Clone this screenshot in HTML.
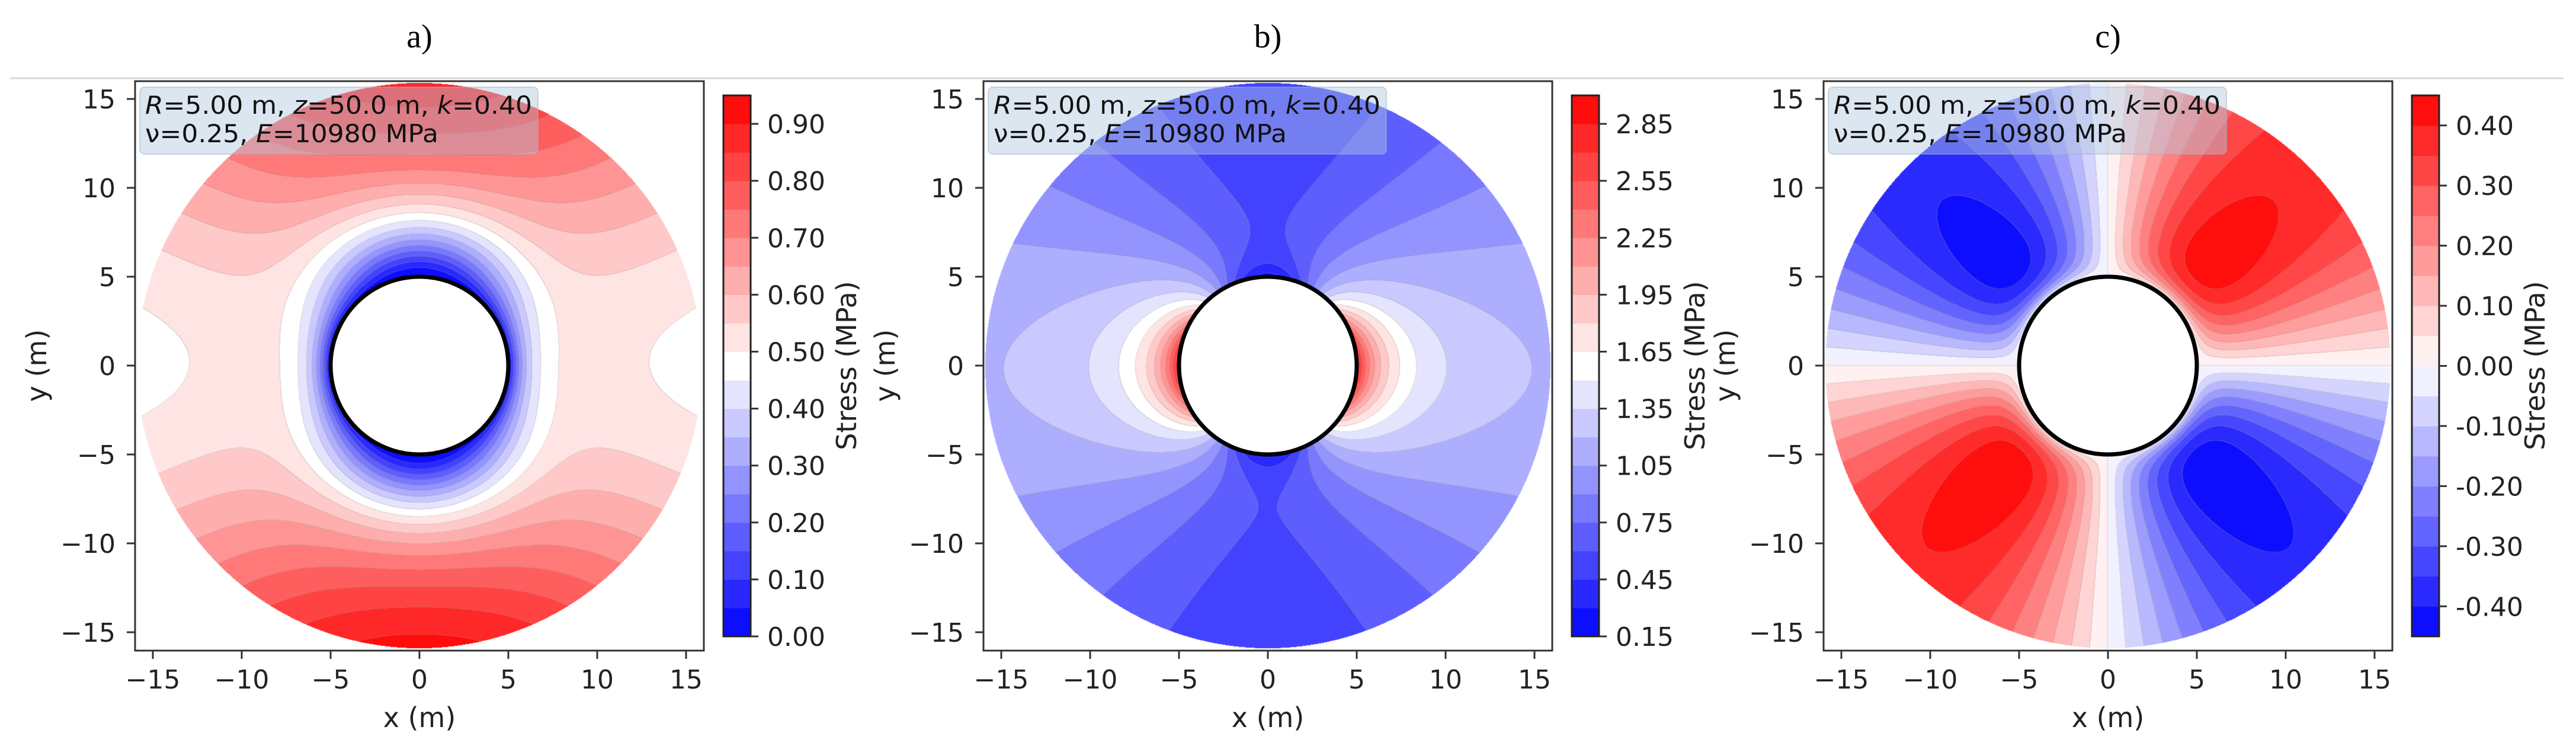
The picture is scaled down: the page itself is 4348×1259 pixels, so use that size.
<!DOCTYPE html>
<html><head><meta charset="utf-8">
<style>
html,body{margin:0;padding:0;background:#fff;}
#fig{position:relative;width:4348px;height:1259px;overflow:hidden;background:#fff;}
canvas{position:absolute;top:137px;}
svg{position:absolute;left:0;top:0;}
</style></head>
<body>
<div id="fig">
<canvas id="cA" width="960" height="960" style="left:228px"></canvas>
<canvas id="cB" width="960" height="960" style="left:1660px"></canvas>
<canvas id="cC" width="960" height="960" style="left:3078px"></canvas>
<svg id="ov" width="4348" height="1259" xmlns="http://www.w3.org/2000/svg"></svg>
</div>
<script>
// ---- data ----
const holeRadius = 5.0;          // R (m)
const domainRadius = 15.9;       // plotted disc radius (m)
const verticalStress = 1.10;     // Pv (MPa)
const kRatio = 0.40;             // Ph / Pv
const depthGradient = 0.02;      // slight variation of Pv with y
const levelsA = [0,0.05,0.10,0.15,0.20,0.25,0.30,0.35,0.40,0.45,0.50,0.55,0.60,0.65,0.70,0.75,0.80,0.85,0.90,0.95];
const levelsB = [0.15,0.30,0.45,0.60,0.75,0.90,1.05,1.20,1.35,1.50,1.65,1.80,1.95,2.10,2.25,2.40,2.55,2.70,2.85,3.00];
const levelsC = [-0.45,-0.40,-0.35,-0.30,-0.25,-0.20,-0.15,-0.10,-0.05,0,0.05,0.10,0.15,0.20,0.25,0.30,0.35,0.40,0.45];
const cbTicksA = [0,0.10,0.20,0.30,0.40,0.50,0.60,0.70,0.80,0.90];
const cbTicksB = [0.15,0.45,0.75,1.05,1.35,1.65,1.95,2.25,2.55,2.85];
const cbTicksC = [-0.40,-0.30,-0.20,-0.10,0,0.10,0.20,0.30,0.40];
const axisTicks = [-15,-10,-5,0,5,10,15];
const panelTitles = ['a)','b)','c)'];

// ---- layout ----
const boxLefts = [228,1660,3078], boxTop = 137, boxSize = 960, pxPerM = 30;
const cbTop = 161, cbBot = 1074, cbW = 46, cbGap = 33;
const NS = 'http://www.w3.org/2000/svg';
const ov = document.getElementById('ov');
function el(tag, attrs, parent){const e=document.createElementNS(NS,tag);for(const k in attrs)e.setAttribute(k,attrs[k]);(parent||ov).appendChild(e);return e;}

function bwr(t){t=Math.max(0,Math.min(1,t));if(t<0.5){const v=2*t;return [v*255,v*255,255];}const v=2*(1-t);return [255,v*255,v*255];}

function fields(x,y,which){
  const r2=x*x+y*y, th=Math.atan2(y,x), rho=holeRadius*holeRadius/r2;
  const Pv=verticalStress*(1-depthGradient*y/16), Ph=kRatio*Pv;
  const c2=Math.cos(2*th), s2=Math.sin(2*th);
  if(which===0) return (Ph+Pv)/2*(1-rho)+(Ph-Pv)/2*(1-4*rho+3*rho*rho)*c2;
  if(which===1) return (Ph+Pv)/2*(1+rho)-(Ph-Pv)/2*(1+3*rho*rho)*c2;
  return -(Ph-Pv)/2*(1+2*rho-3*rho*rho)*s2;
}

function bandOf(v,lv){if(v<=lv[0])return 0;for(let i=1;i<lv.length;i++){if(v<lv[i])return i-1;}return lv.length-2;}

function drawField(cid,which,lv){
  const cv=document.getElementById(cid),ctx=cv.getContext('2d');
  const N=960,img=ctx.createImageData(N,N),d=img.data;
  const band=new Int16Array(N*N).fill(-1);
  const nb=lv.length-1;
  for(let j=0;j<N;j++){const y=16-(j+0.5)/pxPerM;
    for(let i=0;i<N;i++){const x=(i+0.5)/pxPerM-16;const r=Math.hypot(x,y);
      if(r>domainRadius||r<holeRadius)continue;
      band[j*N+i]=bandOf(fields(x,y,which),lv);}}
  for(let j=0;j<N;j++)for(let i=0;i<N;i++){const k=j*N+i,p=k*4,b=band[k];
    if(b<0){d[p]=255;d[p+1]=255;d[p+2]=255;d[p+3]=0;continue;}
    let c=bwr((b+0.5)/nb);
    const rt=(i<N-1)?band[k+1]:b, dn=(j<N-1)?band[k+N]:b;
    if((rt>=0&&rt!==b)||(dn>=0&&dn!==b)){c=[c[0]*0.65+150*0.35,c[1]*0.65+150*0.35,c[2]*0.65+130*0.35];}
    d[p]=c[0];d[p+1]=c[1];d[p+2]=c[2];d[p+3]=255;}
  ctx.putImageData(img,0,0);
}
drawField('cA',0,levelsA);drawField('cB',1,levelsB);drawField('cC',2,levelsC);

// separator line
const sep=el('line',{x1:17,y1:132,x2:4327,y2:132,stroke:'#d9d9d9','stroke-width':3});



const FONT='"DejaVu Sans","Liberation Sans",sans-serif';
const allLevels=[levelsA,levelsB,levelsC], allTicks=[cbTicksA,cbTicksB,cbTicksC];

for(let p=0;p<3;p++){
  const L=boxLefts[p], cx=L+boxSize/2, cy=boxTop+boxSize/2;
  const xs=v=>cx+v*pxPerM, ys=v=>cy-v*pxPerM;
  const g=el('g',{});
  
  
  const hole=el('circle',{cx:cx,cy:cy,r:holeRadius*pxPerM,fill:'none',stroke:'#000','stroke-width':7},g);
  
  
  const box=el('rect',{x:L,y:boxTop,width:boxSize,height:boxSize+1,fill:'none',stroke:'#333','stroke-width':3},g);
  
  
  const t=el('text',{x:cx,y:80,'text-anchor':'middle','font-family':'"Liberation Serif",serif','font-size':56,fill:'#000'},g);
  t.textContent=panelTitles[p];
  
  
  for(const v of axisTicks){
    el('line',{x1:xs(v),y1:boxTop+boxSize+1,x2:xs(v),y2:boxTop+boxSize+15,stroke:'#333','stroke-width':3},g);
    const tx=el('text',{x:xs(v),y:1162,'text-anchor':'middle','font-family':FONT,'font-size':44,fill:'#222'},g);
    tx.textContent=(v<0?'\u2212':'')+Math.abs(v);
    
    
    el('line',{x1:L-14,y1:ys(v),x2:L,y2:ys(v),stroke:'#333','stroke-width':3},g);
    const ty=el('text',{x:L-33,y:ys(v)+16,'text-anchor':'end','font-family':FONT,'font-size':44,fill:'#222'},g);
    ty.textContent=(v<0?'\u2212':'')+Math.abs(v);
    
    
  }
  const xl=el('text',{x:cx,y:1227,'text-anchor':'middle','font-family':FONT,'font-size':46,fill:'#222'},g);
  xl.textContent='x (m)';
  
  
  const yl=el('text',{x:0,y:0,'text-anchor':'middle','font-family':FONT,'font-size':46,fill:'#222',transform:`translate(${L-150},${cy}) rotate(-90)`},g);
  yl.textContent='y (m)';
  
  
  const ab=el('rect',{x:L+8,y:147,width:672,height:113,rx:8,fill:'rgba(176,200,222,0.45)',stroke:'rgba(160,180,200,0.5)','stroke-width':2},g);
  
  
  const a1=el('text',{x:L+17,y:192,'font-family':FONT,'font-size':42,fill:'#111',textLength:653,lengthAdjust:'spacingAndGlyphs'},g);
  a1.innerHTML='<tspan font-style="italic">R</tspan>=5.00 m, <tspan font-style="italic">z</tspan>=50.0 m, <tspan font-style="italic">k</tspan>=0.40';
  
  
  const a2=el('text',{x:L+17,y:240,'font-family':FONT,'font-size':42,fill:'#111',textLength:495,lengthAdjust:'spacingAndGlyphs'},g);
  a2.innerHTML='\u03bd=0.25, <tspan font-style="italic">E</tspan>=10980 MPa';
  
  
  const lv=allLevels[p], vmin=lv[0], vmax=lv[lv.length-1], nb=lv.length-1;
  const cbx=L+boxSize+cbGap;
  const cs=v=>cbBot-(v-vmin)/(vmax-vmin)*(cbBot-cbTop);
  const cg=el('g',{},g);
  
  
  for(let i=0;i<nb;i++){
    const c=bwr((i+0.5)/nb);
    const r=el('rect',{x:cbx,y:cs(lv[i+1]),width:cbW,height:cs(lv[i])-cs(lv[i+1])+0.6,fill:`rgb(${c[0]|0},${c[1]|0},${c[2]|0})`},cg);
    
    
  }
  el('rect',{x:cbx,y:cbTop,width:cbW,height:cbBot-cbTop,fill:'none',stroke:'#222','stroke-width':3},cg);
  for(const v of allTicks[p]){
    el('line',{x1:cbx+cbW,y1:cs(v),x2:cbx+cbW+13,y2:cs(v),stroke:'#333','stroke-width':3},cg);
    const tl=el('text',{x:cbx+cbW+28,y:cs(v)+16,'font-family':FONT,'font-size':44,fill:'#222'},cg);
    tl.textContent=(v<0?'-':'')+Math.abs(v).toFixed(2);
    
    
  }
  const cl=el('text',{x:0,y:0,'text-anchor':'middle','font-family':FONT,'font-size':46,fill:'#222',transform:`translate(${cbx+cbW+178},${cy}) rotate(-90)`},cg);
  cl.textContent='Stress (MPa)';
  
  
}
</script>
</body></html>
